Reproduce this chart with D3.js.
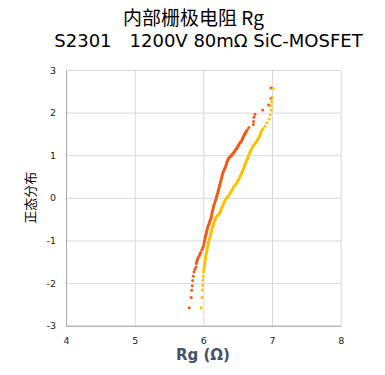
<!DOCTYPE html>
<html>
<head>
<meta charset="utf-8">
<script src="https://cdn.jsdelivr.net/npm/d3@7"></script>
<style>
  body { margin: 0; background: #fff; }
  svg { display: block; }
</style>
</head>
<body>
<div class="svg-container"></div>
<script>
// values: [Rg (Ω), normal score]
const seriesOrange = [
  [5.795,-2.58],[5.824,-2.34],[5.83,-2.17],[5.838,-2.06],[5.844,-1.94],[5.853,-1.84],[5.863,-1.74],[5.877,-1.68],[5.892,-1.63],
  [5.897,-1.54],[5.904,-1.50],[5.911,-1.47],[5.918,-1.43],[5.926,-1.40],[5.943,-1.35],[5.952,-1.31],[5.961,-1.28],[5.977,-1.22],[5.99,-1.17],[6.001,-1.13],[6.009,-1.07],
  [6.014,-1.03],[6.019,-1.00],[6.025,-0.95],[6.031,-0.90],[6.036,-0.87],[6.042,-0.83],[6.047,-0.80],[6.052,-0.76],[6.058,-0.72],[6.064,-0.69],[6.072,-0.65],[6.081,-0.62],[6.087,-0.58],[6.093,-0.55],[6.102,-0.51],[6.111,-0.48],
  [6.117,-0.43],[6.122,-0.38],[6.127,-0.35],[6.132,-0.31],[6.138,-0.28],[6.144,-0.24],[6.149,-0.20],[6.154,-0.17],[6.162,-0.13],[6.169,-0.10],[6.176,-0.06],[6.183,-0.03],[6.189,0.01],[6.195,0.04],[6.201,0.08],[6.208,0.11],
  [6.214,0.15],[6.22,0.18],[6.225,0.22],[6.231,0.25],[6.236,0.29],[6.241,0.32],[6.247,0.36],[6.253,0.39],[6.259,0.43],[6.266,0.46],[6.27,0.50],[6.275,0.53],[6.282,0.57],[6.289,0.61],[6.296,0.63],[6.304,0.66],[6.312,0.69],[6.321,0.72],
  [6.328,0.76],[6.336,0.79],[6.342,0.83],[6.348,0.86],[6.355,0.89],[6.362,0.91],[6.371,0.93],[6.38,0.95],[6.394,0.97],[6.403,0.99],[6.412,1.00],[6.421,1.02],[6.431,1.04],[6.44,1.06],[6.45,1.08],[6.458,1.10],[6.467,1.12],
  [6.476,1.14],[6.485,1.16],[6.494,1.19],[6.504,1.21],[6.511,1.23],[6.518,1.25],[6.528,1.28],[6.537,1.30],[6.546,1.31],[6.555,1.33],[6.562,1.36],[6.569,1.38],[6.575,1.41],[6.581,1.43],[6.588,1.46],[6.595,1.48],[6.603,1.50],[6.61,1.51],
  [6.617,1.54],[6.624,1.56],[6.64,1.60],[6.664,1.65],[6.727,1.72],[6.732,1.79],[6.737,1.89],[6.751,1.96],[6.863,2.06],[6.95,2.18],
  [6.984,2.34],[6.984,2.58]
];
const seriesYellow = [
  [5.969,-2.58],[5.98,-2.34],[5.984,-2.16],[5.99,-2.05],[5.994,-1.93],[5.999,-1.84],[6.004,-1.74],
  [6.006,-1.70],[6.009,-1.65],[6.012,-1.62],[6.016,-1.58],[6.02,-1.54],[6.023,-1.50],[6.027,-1.46],[6.031,-1.42],[6.034,-1.38],[6.038,-1.34],[6.043,-1.30],[6.047,-1.27],[6.051,-1.23],[6.055,-1.20],[6.06,-1.16],[6.064,-1.13],
  [6.069,-1.09],[6.074,-1.05],[6.079,-1.02],[6.084,-0.98],[6.09,-0.95],[6.096,-0.93],[6.102,-0.89],[6.108,-0.85],[6.113,-0.81],[6.118,-0.78],[6.123,-0.74],[6.128,-0.71],[6.134,-0.68],[6.14,-0.65],[6.145,-0.62],[6.151,-0.60],
  [6.158,-0.57],[6.166,-0.54],[6.173,-0.51],[6.18,-0.48],[6.189,-0.45],[6.198,-0.43],[6.207,-0.41],[6.217,-0.40],[6.225,-0.38],[6.234,-0.37],[6.241,-0.34],[6.249,-0.31],[6.256,-0.28],[6.263,-0.25],[6.27,-0.22],[6.278,-0.20],
  [6.285,-0.17],[6.293,-0.14],[6.302,-0.11],[6.312,-0.08],[6.32,-0.05],[6.329,-0.03],[6.34,0.00],[6.351,0.02],[6.362,0.04],[6.373,0.06],[6.383,0.09],[6.394,0.12],[6.405,0.15],[6.416,0.18],[6.425,0.21],[6.435,0.24],
  [6.447,0.27],[6.46,0.30],[6.472,0.32],[6.485,0.35],[6.494,0.38],[6.504,0.41],[6.513,0.43],[6.523,0.46],[6.531,0.49],[6.54,0.52],[6.548,0.55],[6.557,0.58],[6.565,0.61],[6.572,0.64],[6.58,0.67],[6.587,0.70],
  [6.594,0.73],[6.601,0.76],[6.608,0.79],[6.616,0.82],[6.623,0.85],[6.63,0.88],[6.637,0.90],[6.645,0.93],[6.652,0.96],[6.659,0.99],[6.666,1.02],[6.674,1.05],[6.681,1.08],[6.688,1.11],[6.697,1.14],[6.707,1.17],
  [6.716,1.20],[6.726,1.22],[6.736,1.24],[6.747,1.26],[6.758,1.29],[6.769,1.31],[6.778,1.33],[6.787,1.36],[6.796,1.38],[6.805,1.41],[6.813,1.43],[6.821,1.46],[6.828,1.49],[6.836,1.52],[6.842,1.55],[6.849,1.58],
  [6.858,1.60],[6.868,1.62],[6.897,1.68],[6.926,1.76],[6.959,1.85],[6.974,1.95],[6.988,2.06],[6.991,2.16],[6.994,2.25],
  [6.999,2.36],[7.017,2.57]
];
const xTicks = [4, 5, 6, 7, 8];
const yTicks = [-3, -2, -1, 0, 1, 2, 3];

const titleText = "内部栅极电阻 Rg";
const subtitleText = "S2301\u30001200V 80mΩ SiC-MOSFET";
const yTitle = "正态分布";
const xTitle = "Rg (Ω)";

const width = 385, height = 375;
const margin = {top: 70, right: 44.3, bottom: 49.3, left: 66};

const svg = d3.select(".svg-container").append("svg")
  .attr("width", width)
  .attr("height", height);

const xScale = d3.scaleLinear().domain([4, 8]).range([margin.left, width - margin.right]);
const yScale = d3.scaleLinear().domain([-3, 3]).range([height - margin.bottom, margin.top]);

// gridlines
svg.append("g")
  .attr("transform", `translate(${margin.left},0)`)
  .call(d3.axisLeft(yScale).tickValues(yTicks).tickSize(-(width - margin.left - margin.right)).tickFormat(""))
  .call(g => g.select(".domain").remove())
  .call(g => g.selectAll("line").attr("stroke", "#d9d9d9"));

svg.append("g")
  .attr("transform", `translate(0,${height - margin.bottom})`)
  .call(d3.axisBottom(xScale).tickValues(xTicks).tickSize(-(height - margin.top - margin.bottom)).tickFormat(""))
  .call(g => g.select(".domain").remove())
  .call(g => g.selectAll("line").attr("stroke", "#d9d9d9"));

// axes
const yAxis = svg.append("g")
  .attr("transform", `translate(${margin.left},0)`)
  .call(d3.axisLeft(yScale).tickValues(yTicks).tickSize(0).tickPadding(10).tickFormat(d => String(d)));
const xAxis = svg.append("g")
  .attr("transform", `translate(0,${height - margin.bottom})`)
  .call(d3.axisBottom(xScale).tickValues(xTicks).tickSize(0).tickPadding(12).tickFormat(d => String(d)));

[xAxis, yAxis].forEach(g => {
  g.select(".domain").attr("stroke", "#a6a6a6");
  g.selectAll("text")
    .style("font-family", "'DejaVu Sans', sans-serif")
    .style("font-size", "9.5px")
    .attr("fill", "#222");
});

// points
svg.append("g").selectAll("circle")
  .data(seriesOrange)
  .join("circle")
  .attr("cx", d => xScale(d[0]))
  .attr("cy", d => yScale(d[1]))
  .attr("r", 1.5)
  .attr("fill", "#f25a12");

svg.append("g").selectAll("circle")
  .data(seriesYellow)
  .join("circle")
  .attr("cx", d => xScale(d[0]))
  .attr("cy", d => yScale(d[1]))
  .attr("r", 1.5)
  .attr("fill", "#ffc000");

// titles
svg.append("text")
  .attr("x", 193.5)
  .attr("y", 25)
  .style("text-anchor", "middle")
  .style("font-family", "'Noto Sans CJK SC', sans-serif")
  .style("font-size", "19px")
  .text(titleText);

svg.append("text")
  .attr("x", 208.5)
  .attr("y", 47)
  .style("text-anchor", "middle")
  .style("font-family", "'DejaVu Sans', sans-serif")
  .style("font-size", "18px")
  .text(subtitleText);

svg.append("text")
  .attr("transform", `translate(35,${yScale(0)}) rotate(-90)`)
  .style("text-anchor", "middle")
  .style("font-family", "'Noto Sans CJK SC', sans-serif")
  .style("font-size", "13px")
  .text(yTitle);

svg.append("text")
  .attr("x", 203)
  .attr("y", 360)
  .style("text-anchor", "middle")
  .style("font-family", "'DejaVu Sans', sans-serif")
  .style("font-weight", "bold")
  .style("font-size", "15px")
  .attr("fill", "#44546a")
  .text(xTitle);
</script>
</body>
</html>
